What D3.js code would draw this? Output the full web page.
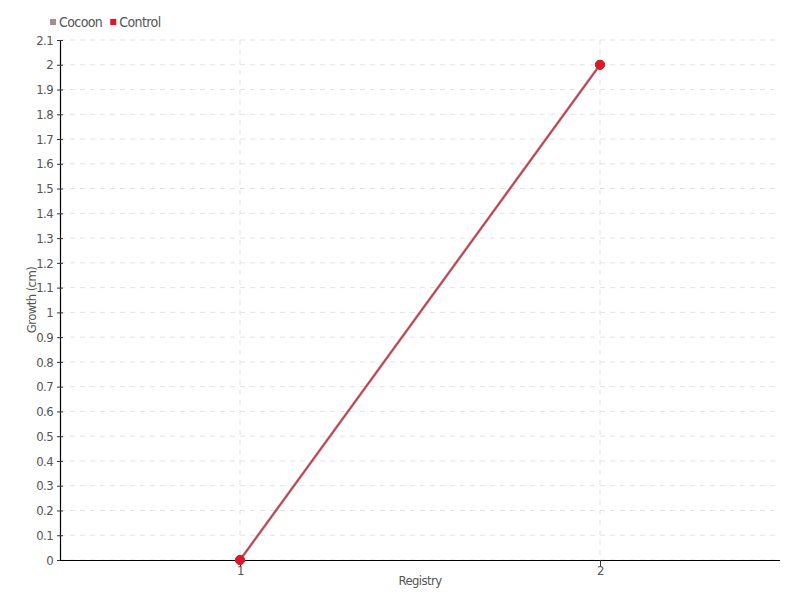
<!DOCTYPE html>
<html>
<head>
<meta charset="utf-8">
<script src="https://cdn.jsdelivr.net/npm/d3@7"></script>
<style>
  body { margin: 0; background: #fff; }
  svg text { font-family: "DejaVu Sans Condensed", "DejaVu Sans", sans-serif; font-stretch: condensed; fill: #555; letter-spacing: -0.6px; }
</style>
</head>
<body>
<svg id="chart" width="800" height="600"></svg>
<script>
const registries = [1, 2];
const seriesNames = ['Cocoon', 'Control'];
const seriesColors = ['#a88a92', '#ee1122'];
const cocoonValues = [0, 2];
const controlValues = [0, 2];
const yTicks = d3.range(0, 22).map(i => i / 10);

const margin = {top: 40, right: 20, bottom: 40, left: 60};
const width = 800, height = 600;

const svg = d3.select('#chart');

const x = d3.scaleLinear().domain([0.5, 2.5]).range([margin.left, width - margin.right]);
const y = d3.scaleLinear().domain([0, 2.1]).range([height - margin.bottom, margin.top]);

// grid
svg.append('g')
.selectAll('line')
.data(yTicks)
.join('line')
.attr('x1', margin.left)
.attr('x2', width - margin.right)
.attr('y1', d => y(d))
.attr('y2', d => y(d))
.attr('stroke', '#e3e3e3')
.attr('stroke-dasharray', '5,5');

svg.append('g')
.selectAll('line')
.data(registries)
.join('line')
.attr('x1', d => x(d))
.attr('x2', d => x(d))
.attr('y1', margin.top)
.attr('y2', height - margin.bottom)
.attr('stroke', '#e3e3e3')
.attr('stroke-dasharray', '5,5');

// axes
const yAxis = svg.append('g')
.attr('transform', `translate(${margin.left},0)`)
.call(d3.axisLeft(y).tickValues(yTicks).tickSize(3).tickPadding(4).tickFormat(d3.format('~g')));
yAxis.selectAll('.tick line').attr('x2', 3).attr('x1', -3);

const xAxis = svg.append('g')
.attr('transform', `translate(0,${height - margin.bottom})`)
.call(d3.axisBottom(x).tickValues(registries).tickSize(6).tickPadding(0).tickFormat(d3.format('d')));

[yAxis, xAxis].forEach(a => {
    a.select('.domain').attr('stroke', '#000').attr('stroke-width', 1.2);
    a.selectAll('.tick line').attr('stroke', '#333');
    a.selectAll('text').attr('font-size', 13).style('fill', '#555');
});
xAxis.select('.domain').attr('d', `M${margin.left},0.5H${width - margin.right}`);
yAxis.select('.domain').attr('d', `M0.5,${margin.top}V${height - margin.bottom}`);

// axis titles
svg.append('text')
.attr('x', (margin.left + width - margin.right) / 2)
.attr('y', 585)
.attr('text-anchor', 'middle')
.attr('font-size', 13)
.text('Registry');

svg.append('text')
.attr('transform', `translate(36,${(margin.top + height - margin.bottom) / 2}) rotate(-90)`)
.attr('text-anchor', 'middle')
.attr('font-size', 13)
.text('Growth (cm)');

// series
const series = [cocoonValues, controlValues].map((vals, i) => ({
    name: seriesNames[i],
    color: seriesColors[i],
    values: vals.map((v, j) => ({x: registries[j], y: v}))
}));

const line = d3.line().x(d => x(d.x)).y(d => y(d.y));

series.forEach((s, i) => {
    svg.append('path')
    .datum(s.values)
    .attr('fill', 'none')
    .attr('stroke', s.color)
    .attr('stroke-width', i === 0 ? 2.6 : 1.3)
    .attr('opacity', i === 0 ? 1 : 0.75)
    .attr('d', line);
});

series.forEach(s => {
    svg.append('g')
    .selectAll('circle')
    .data(s.values)
    .join('circle')
    .attr('cx', d => x(d.x))
    .attr('cy', d => y(d.y))
    .attr('r', 4.5)
    .attr('fill', seriesColors[1])
    .attr('stroke', '#a33')
    .attr('stroke-width', 1);
});

// legend
const legend = svg.append('g').attr('transform', 'translate(50,22)');
let lx = 0;
seriesNames.forEach((name, i) => {
    const g = legend.append('g').attr('transform', `translate(${lx},0)`);
    g.append('rect').attr('x', 0).attr('y', -3).attr('width', 6).attr('height', 6).attr('fill', seriesColors[i]);
    const t = g.append('text').attr('x', 9).attr('y', 0).attr('dy', '0.35em').attr('font-size', 14).text(name);
    lx += 9 + t.node().getComputedTextLength() + 8;
});
</script>
</body>
</html>
